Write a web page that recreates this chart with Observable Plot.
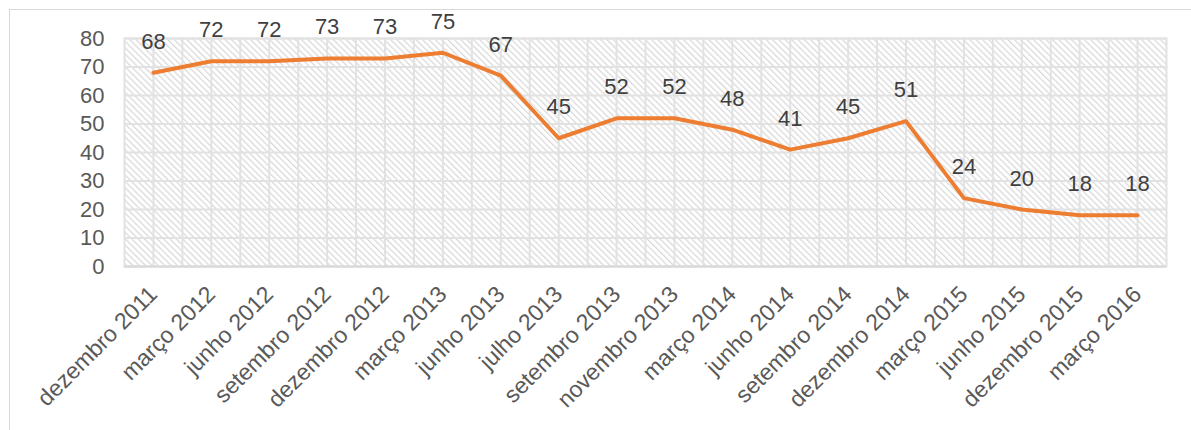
<!DOCTYPE html>
<html>
<head>
<meta charset="utf-8">
<script src="https://cdn.jsdelivr.net/npm/d3@7"></script>
<script src="https://cdn.jsdelivr.net/npm/@observablehq/plot@0.6"></script>
<style>
  html, body { margin: 0; padding: 0; background: #fff; }
  #wrap { position: relative; width: 1191px; height: 430px; overflow: hidden; }
  #border { position: absolute; left: 9px; top: 9px; width: 1300px; height: 500px; border: 1.5px solid #d9d9d9; box-sizing: border-box; }
  #chart { position: absolute; left: 0; top: 0; }
</style>
</head>
<body>
<div id="wrap"><div id="border"></div><div id="chart"></div></div>
<script>
const categories = [
  "dezembro 2011", "março 2012", "junho 2012", "setembro 2012", "dezembro 2012",
  "março 2013", "junho 2013", "julho 2013", "setembro 2013", "novembro 2013",
  "março 2014", "junho 2014", "setembro 2014", "dezembro 2014", "março 2015",
  "junho 2015", "dezembro 2015", "março 2016"
];
const values = [68, 72, 72, 73, 73, 75, 67, 45, 52, 52, 48, 41, 45, 51, 24, 20, 18, 18];
const yTicks = [0, 10, 20, 30, 40, 50, 60, 70, 80];

const data = categories.map((c, i) => ({period: c, value: values[i]}));

const W = 1191, H = 430, mL = 124, mR = 25, mT = 38, mB = 164;
const step = (W - mL - mR) / categories.length;
const gridColor = "#e2e2e2";
const font = "'Liberation Sans', Arial, sans-serif";

const svg = Plot.plot({
  width: W,
  height: H,
  marginLeft: mL,
  marginRight: mR,
  marginTop: mT,
  marginBottom: mB,
  style: {fontFamily: font, fontSize: "22px", color: "#595959", background: "transparent", overflow: "visible"},
  x: {type: "point", domain: categories, padding: 0.5, round: false},
  y: {domain: [0, 80]},
  marks: [
    Plot.frame({fill: "url(#hatch)", stroke: gridColor, strokeWidth: 2}),
    Plot.gridY(yTicks, {stroke: gridColor, strokeOpacity: 1, strokeWidth: 2}),
    Plot.gridX(categories, {stroke: gridColor, strokeOpacity: 1, strokeWidth: 2}),
    Plot.ruleX(categories.slice(1), {dx: -step / 2, stroke: gridColor, strokeWidth: 2}),
    Plot.ruleY([0], {stroke: "#d9d9d9", strokeWidth: 2}),
    Plot.axisY(yTicks, {label: null, tickSize: 0, tickPadding: 20, fontSize: 22}),
    Plot.axisX(categories, {label: null, tickSize: 0, tickPadding: 24, tickRotate: -45, fontSize: 23}),
    Plot.line(data, {x: "period", y: "value", stroke: "#ED7D31", strokeWidth: 4, strokeLinejoin: "round", strokeLinecap: "round"}),
    Plot.text(data, {x: "period", y: "value", text: d => String(d.value), dy: -31, fontSize: 22, fill: "#404040"})
  ]
});

const defs = d3.select(svg).insert("defs", ":first-child");
const pat = defs.append("pattern")
  .attr("id", "hatch")
  .attr("patternUnits", "userSpaceOnUse")
  .attr("width", 4.5)
  .attr("height", 4.5)
  .attr("patternTransform", "rotate(-45)");
pat.append("rect").attr("width", 4.5).attr("height", 4.5).attr("fill", "#ffffff");
pat.append("rect").attr("x", 0).attr("y", 0).attr("width", 1.3).attr("height", 4.5).attr("fill", "#dadada");

document.getElementById("chart").appendChild(svg);
</script>
</body>
</html>
